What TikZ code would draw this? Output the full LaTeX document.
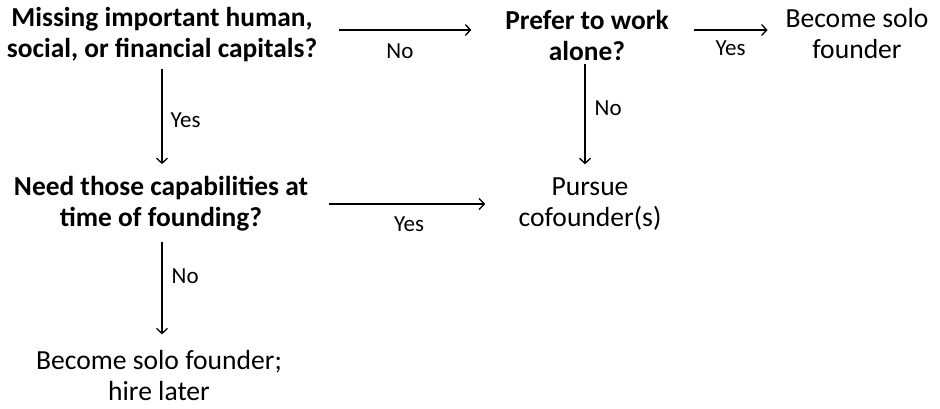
\documentclass[tikz,border=0pt]{standalone}
\usepackage{fontspec}
\setmainfont{Carlito}
\usetikzlibrary{arrows.meta}
\begin{document}
\begin{tikzpicture}[
x=0.5pt, y=-0.5pt,
every node/.style={align=center, inner sep=0pt, font=\fontsize{13.8}{15.5}\selectfont},
ques/.style={font=\fontsize{13.7}{15.5}\selectfont\bfseries},
ans/.style={},
lab/.style={font=\fontsize{11.5}{13}\selectfont},
arr/.style={-{Straight Barb[length=2.6pt,width=5.5pt]}, line width=0.65pt}
]
\useasboundingbox (0,0) rectangle (940,408);
\node[ques] at (162,35) (miss) {Missing important human,\\social, or financial capitals?};
\node[ques] at (587,35) (pref) {Prefer to work\\alone?};
\node[ans] at (857,34) (solo) {Become solo\\founder};
\node[ques] at (161,204) (need) {Need those capabilities at\\time of founding?};
\node[ans] at (590,204) (pur) {Pursue\\cofounder(s)};
\node[ans] at (159,376) (late) {Become solo founder;\\hire later};

\draw[arr, shorten <=10.75pt, shorten >=16.75pt] ([yshift=2.5pt]miss.east) -- ([yshift=2.5pt]pref.west) node[lab, pos=0.44, below=6.5pt] (no1) {No};
\draw[arr, shorten <=12.25pt, shorten >=8.75pt] ([yshift=2.5pt]pref.east) -- ([yshift=2.5pt]pref.east -| solo.west) node[lab, pos=0.53, below=5pt] (yes1) {Yes};
\draw[arr, shorten <=3pt, shorten >=6pt] (miss.south) -- (miss.south |- need.north) node[lab, pos=0.51, right=4pt] (yes2) {Yes};
\draw[arr, shorten <=1.5pt, shorten >=6.5pt] ([xshift=-1pt]pref.south) -- ([xshift=-1pt]pref.south |- pur.north) node[lab, pos=0.41, right=4.5pt] (no2) {No};
\draw[arr, shorten <=10.5pt, shorten >=16.5pt] (need) -- (pur) node[lab, pos=0.48, below=6pt] (yes3) {Yes};
\draw[arr, shorten <=5.25pt, shorten >=8pt] ([xshift=0.5pt]need.south) -- ([xshift=0.5pt]need.south |- late.north) node[lab, pos=0.375, right=4.5pt] (no3) {No};
\end{tikzpicture}
\end{document}
